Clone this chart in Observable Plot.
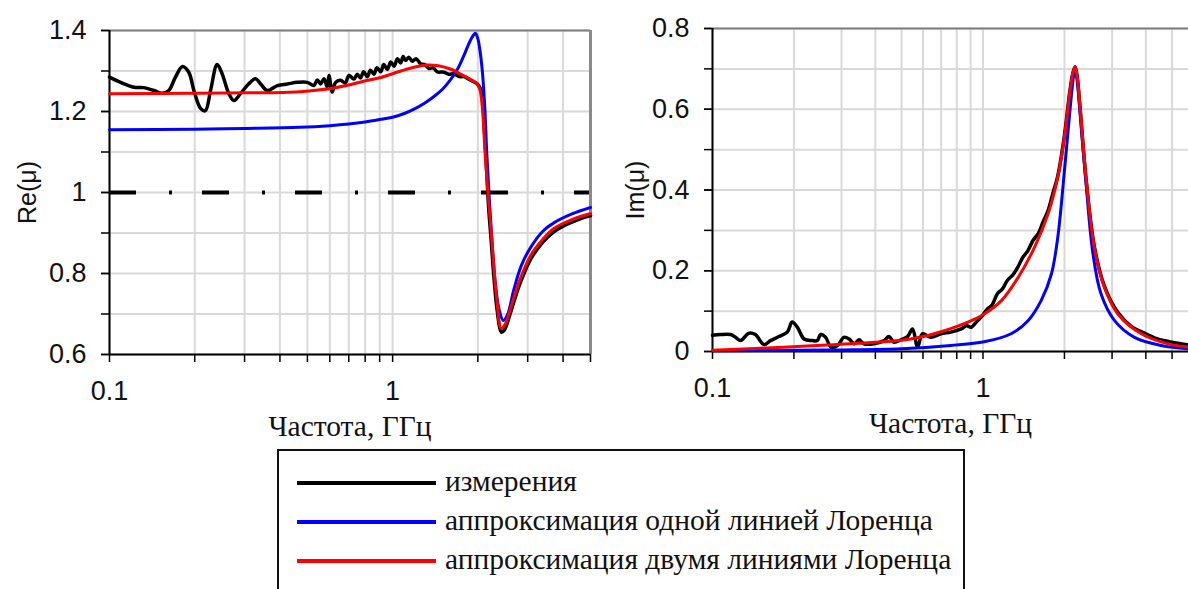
<!DOCTYPE html>
<html>
<head>
<meta charset="utf-8">
<script src="https://cdn.jsdelivr.net/npm/d3@7"></script>
<script src="https://cdn.jsdelivr.net/npm/@observablehq/plot@0.6"></script>
<style>
  html, body { margin: 0; padding: 0; background: #fff; width: 1188px; height: 589px; overflow: hidden; }
  #left { position: absolute; left: 0; top: 0; }
  #right { position: absolute; left: 600px; top: 0; }
  #legend { position: absolute; left: 277px; top: 449px; width: 688px; height: 200px; border: 2px solid #111; box-sizing: border-box; }
  .lg-line { position: absolute; left: 18px; width: 139px; height: 4px; }
  .lg-text { position: absolute; left: 166px; font-family: "Liberation Serif", "Times New Roman", serif; font-size: 29.5px; line-height: 32px; color: #111; white-space: nowrap; }
</style>
</head>
<body>
<div id="left"></div>
<div id="right"></div>
<div id="legend"></div>
<script>
// ---------- categories / labels ----------
const seriesNames = ["измерения", "аппроксимация одной линией Лоренца", "аппроксимация двумя линиями Лоренца"];
const seriesColors = ["#000000", "#0000ff", "#ff0000"];
const xLabel = "Частота, ГГц";
const reLabel = "Re(μ)";
const imLabel = "Im(μ)";
const xGridTicks = [0.1, 0.2, 0.3, 0.4, 0.5, 0.6, 0.7, 0.8, 0.9, 1, 2, 3, 4, 5];
const xTickLabels = [0.1, 1];
const reGridTicks = [0.6, 0.7, 0.8, 0.9, 1, 1.1, 1.2, 1.3, 1.4];
const reTickLabels = [0.6, 0.8, 1, 1.2, 1.4];
const imGridTicks = [0, 0.1, 0.2, 0.3, 0.4, 0.5, 0.6, 0.7, 0.8];
const imTickLabels = [0, 0.2, 0.4, 0.6, 0.8];
const reReference = [1];

// ---------- Re(mu): measurement ----------
const reMeasFreq = [0.1, 0.1094, 0.122, 0.132, 0.1435, 0.1535, 0.162, 0.171, 0.181, 0.1906, 0.1986, 0.21, 0.218, 0.2275, 0.24, 0.25, 0.264, 0.275, 0.29, 0.31, 0.328, 0.342, 0.361, 0.392, 0.425, 0.461, 0.5, 0.527, 0.542, 0.557, 0.572, 0.588, 0.596, 0.612, 0.629, 0.655, 0.68, 0.701, 0.73, 0.75, 0.77, 0.79, 0.814, 0.835, 0.859, 0.88, 0.908, 0.93, 0.958, 0.985, 1.012, 1.04, 1.067, 1.09, 1.111, 1.14, 1.174, 1.21, 1.256, 1.30, 1.344, 1.39, 1.438, 1.518, 1.58, 1.647, 1.72, 1.787, 1.887, 1.992, 2.074, 2.10, 2.14, 2.18, 2.23, 2.28, 2.34, 2.42, 2.48, 2.6, 2.8, 3.07, 3.4, 3.71, 4.0, 4.3, 4.6, 5.0];
const reMeas = [1.285, 1.272, 1.260, 1.259, 1.252, 1.245, 1.252, 1.285, 1.311, 1.297, 1.252, 1.207, 1.202, 1.252, 1.316, 1.293, 1.244, 1.227, 1.244, 1.268, 1.281, 1.268, 1.252, 1.264, 1.268, 1.272, 1.272, 1.264, 1.278, 1.268, 1.281, 1.260, 1.289, 1.248, 1.272, 1.277, 1.270, 1.289, 1.280, 1.292, 1.283, 1.298, 1.286, 1.302, 1.292, 1.308, 1.298, 1.316, 1.304, 1.322, 1.312, 1.330, 1.320, 1.336, 1.326, 1.334, 1.324, 1.330, 1.318, 1.316, 1.306, 1.308, 1.298, 1.297, 1.292, 1.293, 1.286, 1.286, 1.277, 1.268, 1.244, 1.18, 1.08, 0.97, 0.88, 0.79, 0.71, 0.655, 0.66, 0.70, 0.77, 0.835, 0.878, 0.903, 0.917, 0.927, 0.935, 0.943];

// ---------- Re(mu): one Lorentz line ----------
const reOneFreq = [0.1, 0.2, 0.3, 0.47, 0.6, 0.7, 0.8, 0.9, 1.0, 1.1, 1.2, 1.3, 1.4, 1.5, 1.6, 1.7, 1.78, 1.84, 1.9, 1.96, 2.0, 2.04, 2.08, 2.12, 2.15, 2.22, 2.31, 2.38, 2.46, 2.55, 2.68, 2.85, 3.07, 3.4, 3.71, 4.3, 5.0];
const reOne = [1.155, 1.156, 1.158, 1.161, 1.165, 1.169, 1.174, 1.180, 1.186, 1.195, 1.207, 1.221, 1.237, 1.255, 1.278, 1.306, 1.336, 1.360, 1.381, 1.393, 1.38, 1.345, 1.29, 1.20, 1.10, 0.93, 0.77, 0.71, 0.684, 0.70, 0.76, 0.82, 0.864, 0.905, 0.925, 0.947, 0.963];

// ---------- Re(mu): two Lorentz lines ----------
const reTwoFreq = [0.1, 0.2, 0.3, 0.47, 0.62, 0.82, 0.91, 1.07, 1.2, 1.33, 1.45, 1.6, 1.7, 1.84, 1.96, 2.0, 2.04, 2.08, 2.12, 2.17, 2.22, 2.26, 2.33, 2.42, 2.5, 2.6, 2.8, 3.07, 3.4, 3.71, 4.3, 5.0];
const reTwo = [1.244, 1.245, 1.246, 1.249, 1.258, 1.277, 1.284, 1.300, 1.310, 1.315, 1.313, 1.305, 1.296, 1.283, 1.272, 1.266, 1.250, 1.20, 1.10, 1.00, 0.92, 0.85, 0.74, 0.664, 0.675, 0.71, 0.78, 0.844, 0.885, 0.911, 0.933, 0.948];

// ---------- Im(mu): measurement ----------
const imMeasFreq = [0.1, 0.107, 0.1166, 0.1217, 0.127, 0.136, 0.144, 0.155, 0.164, 0.176, 0.189, 0.197, 0.206, 0.218, 0.234, 0.244, 0.251, 0.262, 0.274, 0.29, 0.306, 0.32, 0.334, 0.348, 0.363, 0.395, 0.431, 0.449, 0.469, 0.497, 0.526, 0.549, 0.573, 0.598, 0.642, 0.699, 0.76, 0.83, 0.87, 0.904, 0.95, 0.984, 1.04, 1.08, 1.13, 1.18, 1.23, 1.29, 1.345, 1.40, 1.466, 1.53, 1.60, 1.67, 1.74, 1.81, 1.89, 2.0, 2.09, 2.15, 2.19, 2.23, 2.28, 2.41, 2.58, 2.81, 3.15, 3.53, 3.85, 4.3, 4.83, 5.75];
const imMeas = [0.040, 0.042, 0.042, 0.035, 0.027, 0.045, 0.042, 0.017, 0.027, 0.037, 0.048, 0.073, 0.060, 0.031, 0.027, 0.027, 0.042, 0.035, 0.011, 0.015, 0.035, 0.031, 0.019, 0.029, 0.019, 0.019, 0.027, 0.037, 0.023, 0.029, 0.037, 0.056, 0.011, 0.044, 0.035, 0.044, 0.048, 0.056, 0.064, 0.060, 0.075, 0.085, 0.106, 0.115, 0.143, 0.155, 0.176, 0.190, 0.209, 0.232, 0.250, 0.275, 0.292, 0.322, 0.349, 0.390, 0.435, 0.535, 0.640, 0.690, 0.705, 0.680, 0.610, 0.420, 0.260, 0.162, 0.097, 0.062, 0.049, 0.034, 0.025, 0.016];

// ---------- Im(mu): one Lorentz line ----------
const imOneFreq = [0.1, 0.2, 0.3, 0.5, 0.76, 1.01, 1.27, 1.47, 1.64, 1.79, 1.89, 2.0, 2.09, 2.15, 2.19, 2.23, 2.27, 2.41, 2.55, 2.73, 3.06, 3.63, 4.56, 5.75];
const imOne = [0.002, 0.003, 0.004, 0.007, 0.015, 0.024, 0.044, 0.077, 0.126, 0.192, 0.283, 0.448, 0.588, 0.670, 0.704, 0.670, 0.613, 0.407, 0.242, 0.143, 0.077, 0.035, 0.015, 0.007];

// ---------- Im(mu): two Lorentz lines ----------
const imTwoFreq = [0.1, 0.19, 0.28, 0.5, 0.59, 0.66, 0.88, 1.01, 1.17, 1.35, 1.55, 1.74, 1.89, 2.0, 2.09, 2.15, 2.19, 2.23, 2.28, 2.41, 2.58, 2.81, 3.15, 3.85, 4.83, 5.75];
const imTwo = [0.003, 0.011, 0.017, 0.028, 0.036, 0.044, 0.073, 0.093, 0.126, 0.184, 0.258, 0.341, 0.432, 0.531, 0.638, 0.690, 0.704, 0.680, 0.613, 0.423, 0.258, 0.159, 0.093, 0.044, 0.019, 0.011];

// ---------- build ----------
const pts = (xs, ys) => xs.map((x, i) => ({x, y: ys[i]}));
const sansFont = "'Liberation Sans', Arial, sans-serif";
const serifFont = "'Liberation Serif', 'Times New Roman', serif";
const gridStyle = {stroke: "#d9d9d9", strokeOpacity: 1, strokeWidth: 2};

function panel(opts) {
  const {width, marginLeft, marginRight, marginTop, marginBottom, xDomain, yDomain,
         yGrid, yLabels, series, yTitle, titleDx, extraMarks, showRight} = opts;
  const height = 445;
  const marks = [
    Plot.gridX(xGridTicks, gridStyle),
    Plot.gridY(yGrid, gridStyle),
    ...(extraMarks || []),
    Plot.ruleY([yDomain[1]], {stroke: "#7f7f7f", strokeWidth: 2}),
    ...(showRight ? [Plot.ruleX([xDomain[1]], {stroke: "#8a8a8a", strokeWidth: 3})] : []),
    Plot.ruleX([xDomain[0]], {stroke: "#000", strokeWidth: 2}),
    Plot.ruleY([yDomain[0]], {stroke: "#000", strokeWidth: 2}),
    Plot.axisX(xGridTicks, {tickSize: 8, tickFormat: () => "", stroke: "#000", strokeWidth: 1.5, label: null}),
    Plot.axisX(xTickLabels, {tickSize: 0, tickPadding: 26, tickFormat: d => String(d), fontSize: 27, fill: "#111", label: null}),
    Plot.axisY(yGrid, {tickSize: 8, tickFormat: () => "", stroke: "#000", strokeWidth: 1.5, label: null}),
    Plot.axisY(yLabels, {tickSize: 8, tickPadding: 15, tickFormat: d => String(d), fontSize: 27, fill: "#111", stroke: "#000", strokeWidth: 1.5, label: null}),
    ...series.map((s, i) => Plot.line(s, {x: "x", y: "y", stroke: seriesColors[i], strokeWidth: i === 0 ? 3.5 : 3, curve: "catmull-rom"})),
    Plot.text([xLabel], {frameAnchor: "bottom", dy: 72, lineAnchor: "middle", textAnchor: "middle", fontFamily: serifFont, fontSize: 29.5, fill: "#111"}),
    Plot.text([yTitle], {frameAnchor: "left", dx: titleDx, rotate: -90, textAnchor: "middle", lineAnchor: "middle", fontFamily: sansFont, fontSize: 25, fill: "#111"})
  ];
  return Plot.plot({
    width, height, marginLeft, marginRight, marginTop, marginBottom,
    x: {type: "log", domain: xDomain, label: null},
    y: {domain: yDomain, label: null},
    style: {fontFamily: sansFont, fontSize: "25px", color: "#111", background: "transparent", overflow: "visible"},
    marks
  });
}

const leftChart = panel({
  width: 600, marginLeft: 109, marginRight: 10, marginTop: 30, marginBottom: 91,
  xDomain: [0.1, 5], yDomain: [0.6, 1.4],
  yGrid: reGridTicks, yLabels: reTickLabels,
  series: [pts(reMeasFreq, reMeas), pts(reOneFreq, reOne), pts(reTwoFreq, reTwo)],
  yTitle: reLabel, titleDx: -82, showRight: true,
  extraMarks: [Plot.ruleY(reReference, {stroke: "#000", strokeWidth: 4, strokeDasharray: "27 33 3 30"})]
});
document.getElementById("left").appendChild(leftChart);

const rightChart = panel({
  width: 588, marginLeft: 112, marginRight: 0, marginTop: 28, marginBottom: 94,
  xDomain: [0.1, 5.75], yDomain: [0, 0.8],
  yGrid: imGridTicks, yLabels: imTickLabels,
  series: [pts(imMeasFreq, imMeas), pts(imOneFreq, imOne), pts(imTwoFreq, imTwo)],
  yTitle: imLabel, titleDx: -77, showRight: false,
  extraMarks: []
});
document.getElementById("right").appendChild(rightChart);

// ---------- legend ----------
const legend = document.getElementById("legend");
const rowTops = [32, 71, 110];
seriesNames.forEach((name, i) => {
  const line = document.createElement("div");
  line.className = "lg-line";
  line.style.top = (rowTops[i] - 2) + "px";
  line.style.background = seriesColors[i];
  legend.appendChild(line);
  const t = document.createElement("div");
  t.className = "lg-text";
  t.style.top = (rowTops[i] - 18) + "px";
  t.textContent = name;
  legend.appendChild(t);
});
</script>
</body>
</html>
